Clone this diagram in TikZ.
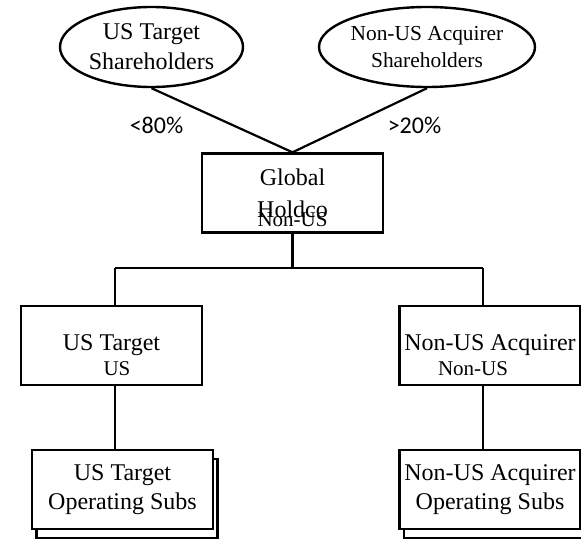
\documentclass[tikz,border=0pt]{standalone}
\usepackage{fontspec}
\setmainfont{Liberation Serif}
\newfontfamily\pctfont{Carlito}
\usetikzlibrary{shapes.geometric,positioning,shadows}
\tikzset{
  corp/.style={draw,line width=1.2pt,rectangle,minimum width=90.5pt,minimum height=39.5pt,inner sep=0pt,align=center,font=\fontsize{12}{15}\selectfont},
  holder/.style={draw,line width=1.2pt,ellipse,minimum width=91.5pt,minimum height=40pt,inner sep=0pt,align=center,font=\fontsize{12}{15}\selectfont},
  subs/.style={corp,fill=white,copy shadow={draw,fill=white,line width=1.2pt,shadow xshift=2.25pt,shadow yshift=-4.5pt}},
  juris/.style={inner sep=0pt,font=\fontsize{10.5}{12}\selectfont},
  pct/.style={inner sep=0pt,font=\pctfont\fontsize{12}{14}\selectfont},
  link/.style={line width=1.1pt}
}
\begin{document}
\begin{tikzpicture}[x=0.5pt,y=-0.5pt]
  \useasboundingbox (0,0) rectangle (581,540);
  % shareholders
  \node[holder] (ustsh) at (151.5,47) {US Target\\Shareholders};
  \node[holder,font=\fontsize{10.7}{13.5}\selectfont] (nacqsh) at (427,47) {Non-US Acquirer\\Shareholders};
  % holding company
  \node[corp] (holdco) at (292.5,193) {Global\\[1pt]Holdco};
  \node[juris] (holdcojuris) [above=3.5pt of holdco.south] {Non-US};
  \draw[link] (ustsh.south) -- (holdco.north);
  \draw[link] (nacqsh.south) -- (holdco.north);
  \node[pct] (lowpct) at (156.5,125) {<80\%};
  \node[pct] (highpct) at (414.5,125) {>20\%};
  % merged companies
  \node[corp] (ustarget) at (111.5,345.5) {US Target};
  \node[juris] (ustargetjuris) at (117,369) {US};
  \node[corp] (nacq) at (490,345.5) {Non-US Acquirer};
  \node[juris] (nacqjuris) at (473,369) {Non-US};
  \coordinate (fork) at (292.5,268);
  \coordinate (ldrop) at (115,268);
  \coordinate (rdrop) at (483,268);
  \draw[link] (holdco) -- (fork);
  \draw[link] (ldrop) -- (rdrop);
  \draw[link] (ldrop) -- (ldrop |- ustarget.north);
  \draw[link] (rdrop) -- (rdrop |- nacq.north);
  % operating subs
  \node[subs] (ussubs) at (122.5,489.5) {US Target\\[-0.5pt]Operating Subs};
  \node[subs] (nacqsubs) at (490,489.5) {Non-US Acquirer\\[-0.5pt]Operating Subs};
  \draw[link] (ldrop |- ustarget.south) -- (ldrop |- ussubs.north);
  \draw[link] (rdrop |- nacq.south) -- (rdrop |- nacqsubs.north);
\end{tikzpicture}
\end{document}
